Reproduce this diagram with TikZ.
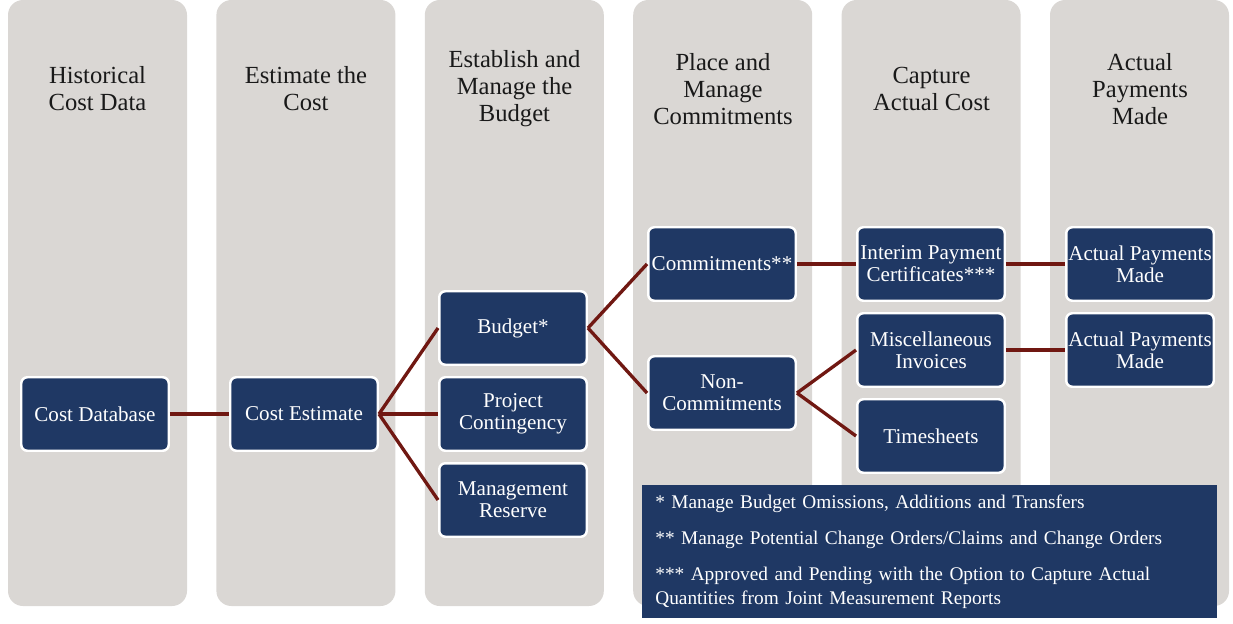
\documentclass[tikz,border=0pt]{standalone}
\usepackage{fontspec}
\setmainfont{Liberation Serif}
\usetikzlibrary{positioning}

\definecolor{colgray}{RGB}{218,215,212}
\definecolor{boxblue}{RGB}{31,56,100}
\definecolor{linkred}{RGB}{112,24,18}

\tikzset{
  column/.style={fill=colgray, rounded corners=0.3cm},
  header/.style={align=center, text=black!90, font=\fontsize{14}{15.4}\selectfont},
  box/.style={draw=white, line width=1.4pt, fill=boxblue, rounded corners=0.12cm,
    minimum width=2.95cm, minimum height=1.47cm, inner sep=1pt,
    text=white, align=center, font=\fontsize{12}{12.6}\selectfont},
  notebox/.style={fill=boxblue, text=white, align=left, text width=10.98cm,
    minimum height=2.66cm, inner xsep=0.26cm, inner ysep=0.1cm,
    font=\fontsize{11}{13.6}\selectfont},
  link/.style={draw=linkred, line width=1.9pt},
}

\begin{document}
\begin{tikzpicture}[x=0.02cm, y=-0.02cm]
  \useasboundingbox (0,0) rectangle (1233,623);

  % grey columns for the six stages
  \foreach \i in {0,...,5} {
    \fill[column] (8+208.4*\i, 0) rectangle ++(179, 606);
  }

  % stage titles
  \node[header] (h1) at (97.5, 89) {Historical\\Cost Data};
  \node[header] (h2) at (306, 89) {Estimate the\\Cost};
  \node[header] (h3) at (514.5, 89) {Establish and\\Manage the\\Budget};
  \node[header] (h4) at (723, 89) {Place and\\Manage\\Commitments};
  \node[header] (h5) at (931.5, 89) {Capture\\Actual Cost};
  \node[header] (h6) at (1140, 89) {Actual\\Payments\\Made};

  % blue boxes
  \node[box] (costdb) at (95, 414) {Cost Database};
  \node[box] (estimate) at (304, 414) {Cost Estimate};

  \node[box] (budget) at (513, 328) {Budget*};
  \node[box] (contingency) at (513, 414) {Project\\Contingency};
  \node[box] (reserve) at (513, 500) {Management\\Reserve};

  \node[box] (commit) at (722, 264) {Commitments**};
  \node[box] (noncommit) at (722, 393) {Non-\\Commitments};

  \node[box] (interim) at (931, 264) {Interim Payment\\Certificates***};
  \node[box] (misc) at (931, 350) {Miscellaneous\\Invoices};
  \node[box] (timesheets) at (931, 436) {Timesheets};

  \node[box] (paid1) at (1140, 264) {Actual Payments\\Made};
  \node[box] (paid2) at (1140, 350) {Actual Payments\\Made};

  % connectors
  \draw[link] (costdb.east) -- (estimate.west);
  \draw[link] (estimate.east) -- (budget.west);
  \draw[link] (estimate.east) -- (contingency.west);
  \draw[link] (estimate.east) -- (reserve.west);
  \draw[link] (budget.east) -- (commit.west);
  \draw[link] (budget.east) -- (noncommit.west);
  \draw[link] (commit.east) -- (interim.west);
  \draw[link] (noncommit.east) -- (misc.west);
  \draw[link] (noncommit.east) -- (timesheets.west);
  \draw[link] (interim.east) -- (paid1.west);
  \draw[link] (misc.east) -- (paid2.west);

  % footnotes
  \node[notebox, anchor=north west] (notes) at (642, 485)
    {* Manage Budget Omissions, Additions and Transfers\\[7pt]
     ** Manage Potential Change Orders/Claims and Change Orders\\[7pt]
     *** Approved and Pending with the Option to Capture Actual\\
     Quantities from Joint Measurement Reports};
\end{tikzpicture}
\end{document}
